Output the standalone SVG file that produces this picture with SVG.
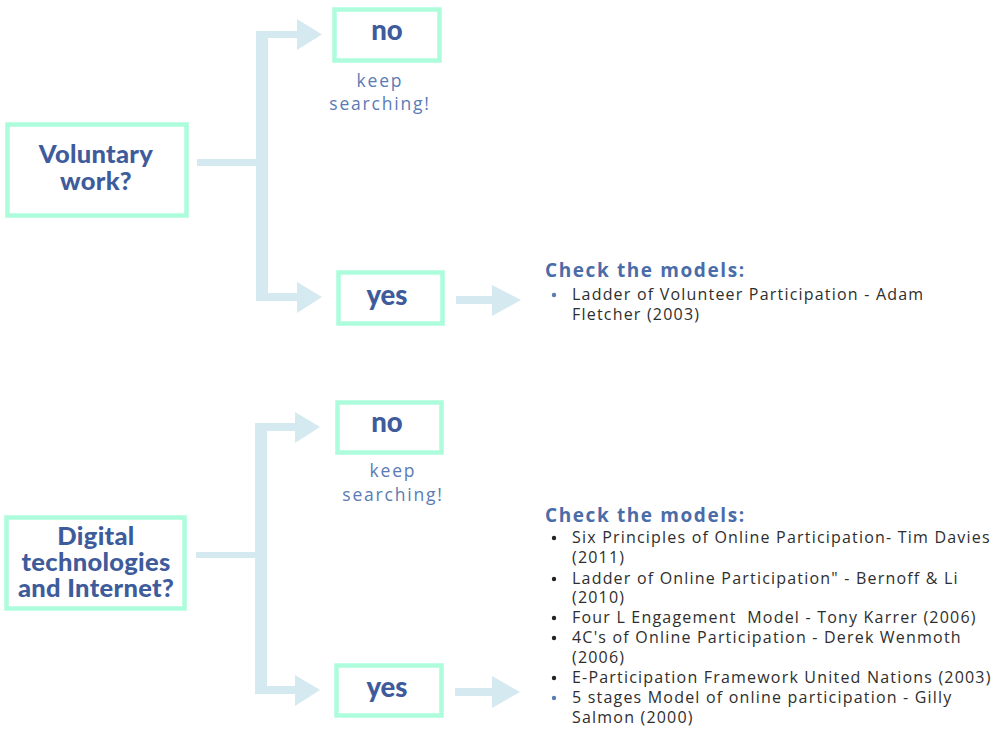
<svg xmlns="http://www.w3.org/2000/svg" width="1004" height="729" viewBox="0 0 1004 729">
<style>
.box{fill:#fff;stroke:#adfcdc;stroke-width:4.5}
.conn{fill:#d5e9f0}
.q{font-family:Lato,"Open Sans",sans-serif;font-weight:900;font-size:25.5px;letter-spacing:0.3px;fill:#3e5b9b;text-anchor:middle}
.ans{font-family:Lato,"Open Sans",sans-serif;font-weight:900;font-size:27.5px;fill:#3e5b9b;text-anchor:middle}
.keep{font-family:"Open Sans","DejaVu Sans",sans-serif;font-size:17.5px;letter-spacing:1.8px;fill:#5a7bb4;text-anchor:middle}
.head{font-family:"Open Sans","DejaVu Sans",sans-serif;font-weight:700;font-size:19px;letter-spacing:1.6px;fill:#4a6ca9}
.item{font-family:"Open Sans","DejaVu Sans",sans-serif;font-size:16px;fill:#2e2e2e;letter-spacing:1.2px}
.bb{fill:#5a7bb4}
.bk{fill:#222}
</style>
<rect width="1004" height="729" fill="#fff"/>
<g id="connectors">
  <rect class="conn" x="197" y="159" width="60" height="7"/>
  <rect class="conn" x="256" y="31" width="12" height="270"/>
  <rect class="conn" x="256" y="31" width="42" height="7"/>
  <polygon class="conn" points="297,19 322,34.5 297,50"/>
  <rect class="conn" x="256" y="293" width="42" height="8"/>
  <polygon class="conn" points="297,282 322,297 297,313"/>
  <rect class="conn" x="456" y="296" width="37" height="8"/>
  <polygon class="conn" points="492,285 521,300 492,316"/>
  <rect class="conn" x="196" y="552" width="60" height="6"/>
  <rect class="conn" x="255" y="423" width="12" height="271"/>
  <rect class="conn" x="255" y="423" width="41" height="8"/>
  <polygon class="conn" points="295,412 320,427 295,443"/>
  <rect class="conn" x="255" y="686" width="41" height="8"/>
  <polygon class="conn" points="295,675 320,690 295,706"/>
  <rect class="conn" x="455" y="688" width="38" height="8"/>
  <polygon class="conn" points="492,676 520,692 492,708"/>
</g>
<g id="voluntary">
  <rect class="box" x="7.5" y="124.5" width="179" height="91"/>
  <text class="q" x="96" y="163">Voluntary</text>
  <text class="q" x="96" y="190">work?</text>
</g>
<g id="no1">
  <rect class="box" x="334.5" y="9.5" width="105" height="51"/>
  <text class="ans" x="387" y="40">no</text>
  <text class="keep" x="380" y="87">keep</text>
  <text class="keep" x="380" y="110">searching!</text>
</g>
<g id="yes1">
  <rect class="box" x="338.5" y="272.5" width="104" height="51"/>
  <text class="ans" x="387" y="305">yes</text>
</g>
<g id="models1">
  <text class="head" x="545" y="277">Check the models:</text>
  <circle class="bb" cx="554" cy="295" r="2.2"/>
  <text class="item" x="572" y="300">Ladder of Volunteer Participation - Adam</text>
  <text class="item" x="572" y="320">Fletcher (2003)</text>
</g>
<g id="digital">
  <rect class="box" x="6.5" y="517.5" width="178" height="91"/>
  <text class="q" x="96" y="545">Digital</text>
  <text class="q" x="96" y="571">technologies</text>
  <text class="q" x="96" y="597">and Internet?</text>
</g>
<g id="no2">
  <rect class="box" x="337.5" y="402.5" width="104" height="50"/>
  <text class="ans" x="387" y="432">no</text>
  <text class="keep" x="393" y="477">keep</text>
  <text class="keep" x="393" y="501">searching!</text>
</g>
<g id="yes2">
  <rect class="box" x="336.5" y="665.5" width="105" height="50"/>
  <text class="ans" x="387" y="697">yes</text>
</g>
<g id="models2">
  <text class="head" x="545" y="522">Check the models:</text>
  <circle class="bk" cx="554" cy="538" r="2.2"/>
  <text class="item" x="572" y="543">Six Principles of Online Participation- Tim Davies</text>
  <text class="item" x="572" y="563">(2011)</text>
  <circle class="bk" cx="554" cy="579" r="2.2"/>
  <text class="item" x="572" y="584">Ladder of Online Participation" - Bernoff &amp; Li</text>
  <text class="item" x="572" y="603">(2010)</text>
  <circle class="bk" cx="554" cy="618" r="2.2"/>
  <text class="item" x="572" y="623">Four L Engagement&#160; Model - Tony Karrer (2006)</text>
  <circle class="bk" cx="554" cy="638" r="2.2"/>
  <text class="item" x="572" y="643">4C's of Online Participation - Derek Wenmoth</text>
  <text class="item" x="572" y="663">(2006)</text>
  <circle class="bk" cx="554" cy="678" r="2.2"/>
  <text class="item" x="572" y="683">E-Participation Framework United Nations (2003)</text>
  <circle class="bb" cx="554" cy="698" r="2.2"/>
  <text class="item" x="572" y="703">5 stages Model of online participation - Gilly</text>
  <text class="item" x="572" y="723">Salmon (2000)</text>
</g>
</svg>
